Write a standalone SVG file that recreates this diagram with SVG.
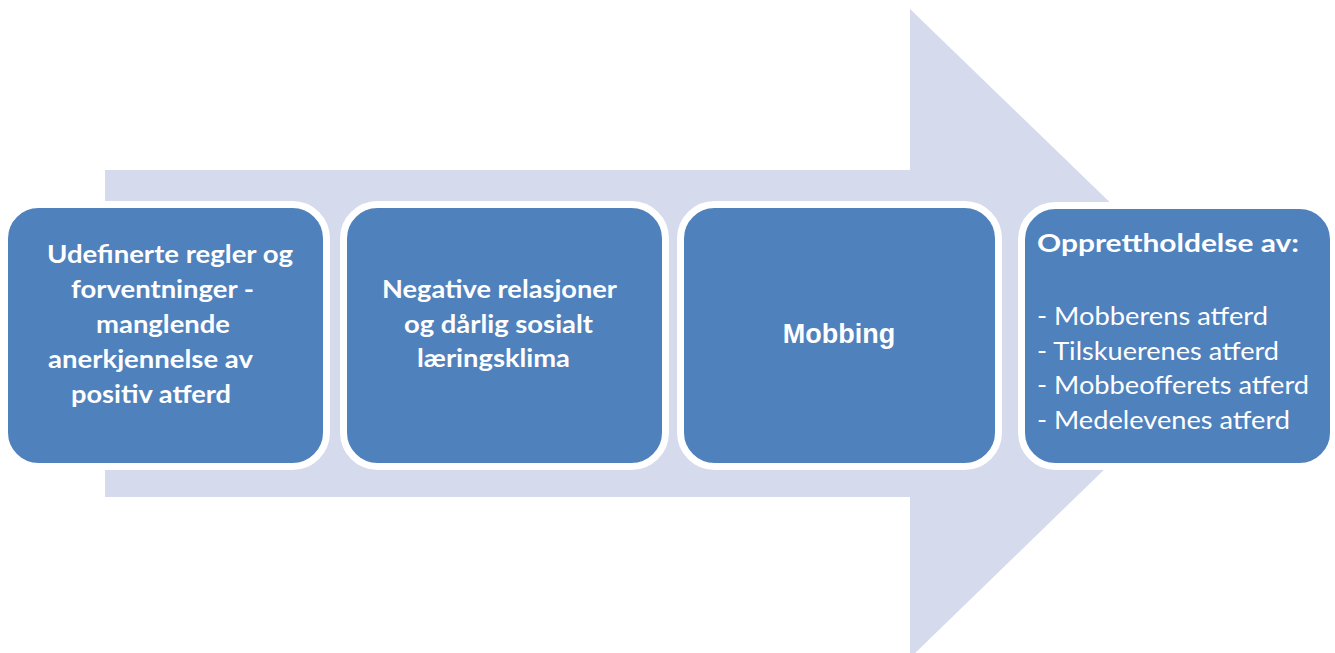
<svg xmlns="http://www.w3.org/2000/svg" width="1335" height="653" viewBox="0 0 1335 653">
<style>
.box{fill:#4F81BD;stroke:#FFFFFF;stroke-width:7}
.t{fill:#FFFFFF;font-family:Lato,"Open Sans","Liberation Sans",sans-serif;font-weight:bold;font-size:25px}
.r{fill:#FFFFFF;font-family:Lato,"Open Sans","Liberation Sans",sans-serif;font-size:25px}
.m{fill:#FFFFFF;font-family:"Liberation Sans",Arial,sans-serif;font-weight:bold;font-size:27px}
</style>
<rect width="1335" height="653" fill="#FFFFFF"/>
<g id="arrow">
<polygon points="105,170 910,170 910,9 1245,333 910,658 910,497 105,497" fill="#D5DAED"/>
</g>
<g id="node1">
<rect class="box" x="4.5" y="204.5" width="322" height="262" rx="34"/>
<text class="t" x="47" y="263" textLength="246" lengthAdjust="spacingAndGlyphs">Udefinerte regler og</text>
<text class="t" x="71" y="298" textLength="183" lengthAdjust="spacingAndGlyphs">forventninger -</text>
<text class="t" x="96" y="333" textLength="134" lengthAdjust="spacingAndGlyphs">manglende</text>
<text class="t" x="48" y="368" textLength="205" lengthAdjust="spacingAndGlyphs">anerkjennelse av</text>
<text class="t" x="71" y="403" textLength="160" lengthAdjust="spacingAndGlyphs">positiv atferd</text>
</g>
<g id="node2">
<rect class="box" x="343.5" y="204.5" width="322" height="262" rx="34"/>
<text class="t" x="382" y="298" textLength="235" lengthAdjust="spacingAndGlyphs">Negative relasjoner</text>
<text class="t" x="404" y="333" textLength="189" lengthAdjust="spacingAndGlyphs">og dårlig sosialt</text>
<text class="t" x="417" y="367" textLength="153" lengthAdjust="spacingAndGlyphs">læringsklima</text>
</g>
<g id="node3">
<rect class="box" x="680.5" y="204.5" width="318" height="262" rx="34"/>
<text class="m" x="839" y="343" text-anchor="middle">Mobbing</text>
</g>
<g id="node4">
<rect class="box" x="1021.5" y="205.5" width="312" height="261" rx="34"/>
<text class="t" x="1037" y="252" textLength="262" lengthAdjust="spacingAndGlyphs">Opprettholdelse av:</text>
<text class="r" x="1037" y="325" textLength="231" lengthAdjust="spacingAndGlyphs">- Mobberens atferd</text>
<text class="r" x="1037" y="360" textLength="242" lengthAdjust="spacingAndGlyphs">- Tilskuerenes atferd</text>
<text class="r" x="1037" y="394" textLength="272" lengthAdjust="spacingAndGlyphs">- Mobbeofferets atferd</text>
<text class="r" x="1037" y="429" textLength="253" lengthAdjust="spacingAndGlyphs">- Medelevenes atferd</text>
</g>
<g id="connectors"></g>
</svg>
